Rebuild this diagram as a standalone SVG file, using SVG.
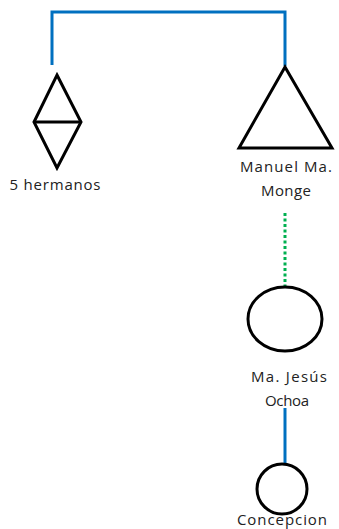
<svg xmlns="http://www.w3.org/2000/svg" width="339" height="529" viewBox="0 0 339 529">
<style>
.shape{fill:none;stroke:#000;stroke-width:3;stroke-linejoin:miter}
.blue{fill:none;stroke:#0070C0;stroke-width:3}
.green{fill:none;stroke:#00B050;stroke-width:3;stroke-dasharray:3 2.5}
text{font-family:"Open Sans","Liberation Sans",sans-serif;font-size:15px;fill:#222;text-anchor:middle}
</style>
<rect width="339" height="529" fill="#fff"/>
<g id="connectors">
<polyline class="blue" points="52,65 52,12 285,12 285,66"/>
<line class="green" x1="285" y1="213" x2="285" y2="287"/>
<line class="blue" x1="285" y1="408" x2="285" y2="463"/>
</g>
<g id="hermanos">
<polygon class="shape" points="57,75 81,122 57,168 34,122"/>
<line class="shape" x1="34" y1="122" x2="81" y2="122"/>
<text x="55" y="190" textLength="91" lengthAdjust="spacing">5 hermanos</text>
</g>
<g id="manuel">
<polygon class="shape" points="285,67 332,148 239,148"/>
<text x="286" y="172" textLength="92" lengthAdjust="spacing">Manuel Ma.</text>
<text x="286" y="196" textLength="50" lengthAdjust="spacing">Monge</text>
</g>
<g id="jesus">
<ellipse class="shape" cx="285" cy="319" rx="37" ry="32"/>
<text x="289" y="382" textLength="76" lengthAdjust="spacing">Ma. Jesús</text>
<text x="287" y="406" textLength="44" lengthAdjust="spacing">Ochoa</text>
</g>
<g id="concepcion">
<circle class="shape" cx="282" cy="489" r="25"/>
<text x="282" y="525" textLength="90" lengthAdjust="spacing">Concepcion</text>
</g>
</svg>
